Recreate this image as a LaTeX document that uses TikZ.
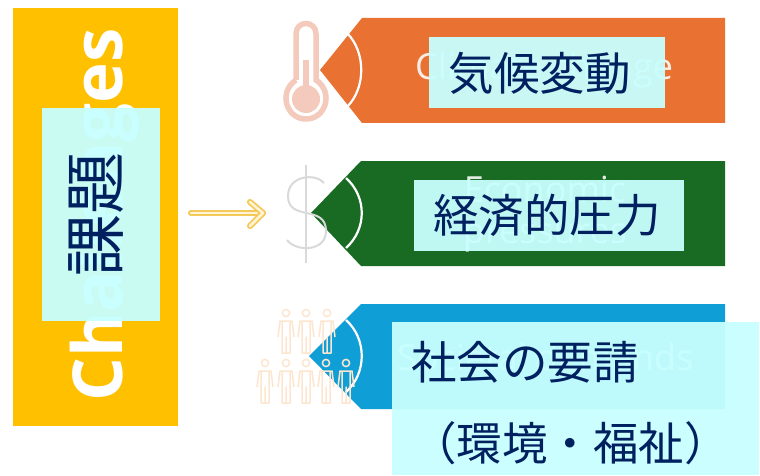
\documentclass[tikz,border=0pt]{standalone}
\usepackage{fontspec}
\setsansfont{Open Sans}
\newfontfamily\jpfont{Noto Sans CJK JP}
\usetikzlibrary{positioning}

\definecolor{barcolor}{HTML}{FFC000}
\definecolor{climatecolor}{HTML}{E97132}
\definecolor{economycolor}{HTML}{196B24}
\definecolor{societycolor}{HTML}{0F9ED5}
\definecolor{boxcolor}{HTML}{C8FFFF}
\definecolor{jptext}{HTML}{002060}
\definecolor{arrowcolor}{HTML}{F5C85A}
\definecolor{arrowinner}{HTML}{FFF4D6}
\definecolor{thermocolor}{HTML}{F3CABB}
\definecolor{dollarcolor}{HTML}{D9D9D9}
\definecolor{peoplecolor}{HTML}{FCE6CF}

\begin{document}
\begin{tikzpicture}[x=1pt,y=-1pt,
    tagarc/.style={draw=white,line width=2.2pt},
    ghost/.style={font=\sffamily\fontsize{36}{41}\selectfont,inner sep=0pt,opacity=.88,align=center},
    jpbox/.style={fill=boxcolor,fill opacity=.95,inner sep=0pt},
    jplabel/.style={text=jptext,inner sep=0pt,font=\jpfont\fontsize{45.5}{81}\selectfont},
    arrowline/.style={draw=arrowcolor,double=arrowinner,double distance=2.5pt,line width=1.8pt,line cap=round,line join=round},
    person/.pic={
      \draw[draw=peoplecolor,line width=1.5pt,line join=round] (0,0) circle[radius=3.6]
        (-8,24) -- (-6,8) -- (6,8) -- (8,24)
        (-4,9) -- (-4,40) -- (0,40) -- (0,24) -- (0,40) -- (4,40) -- (4,9);
    }]
  \useasboundingbox (0,0) rectangle (760,476);

  % left bar
  \node[fill=barcolor,minimum width=165pt,minimum height=418pt,inner sep=0pt] (bar) at (95,217) {};
  \node[rotate=90,anchor=base west,text=white,inner sep=0pt,
        font=\sffamily\bfseries\fontsize{69}{69}\selectfont] (challenges) at (122,402) {Challenges};

  % tags
  \fill[climatecolor] (320,70) -- (362,18) -- (725,18) -- (725,123) -- (362,123) -- cycle;
  \fill[economycolor] (311,213) -- (361,161) -- (725,161) -- (725,266) -- (361,266) -- cycle;
  \fill[societycolor] (309,356) -- (361,304) -- (725,304) -- (725,409) -- (361,409) -- cycle;
  \draw[tagarc] (347,33) .. controls (366,52) and (366,88) .. (347,107);
  \draw[tagarc] (346,178) .. controls (367,197) and (367,229) .. (346,248);
  \draw[tagarc] (346,320) .. controls (367,339) and (367,373) .. (346,392);

  % texts under the boxes
  \node[ghost,text=white,anchor=west] (climate) at (415,70) {Climate change};
  \node[ghost,text=white] (economy) at (545,214) {Economic\\pressures};
  \node[ghost,text=white,anchor=west] (society) at (397,357) {Societal demands};

  % thermometer
  \draw[draw=thermocolor,line width=5.5pt] (296,80) -- (296,34)
    .. controls (296,20) and (316,20) .. (316,34) -- (316,80)
    .. controls (334,92) and (326,119) .. (306,119)
    .. controls (286,119) and (278,92) .. (296,80);
  \fill[thermocolor] (303,60) rectangle (309,90);
  \fill[thermocolor] (306,99) circle[radius=14];

  % dollar
  \draw[draw=dollarcolor,line width=2pt] (306,165) -- (306,263);
  \draw[draw=dollarcolor,line width=2pt] (324,183) .. controls (316,173) and (288,175) .. (288,196)
    .. controls (288,222) and (326,204) .. (326,231)
    .. controls (326,252) and (296,252) .. (287,240);

  % people
  \foreach \px in {286,306,327} \pic at (\px,313) {person};
  \foreach \px in {265,286,306,326,346} \pic at (\px,363) {person};

  % arrow
  \coordinate (arrowtail) at (191,213);
  \coordinate (arrowtip) at (263,213);
  \coordinate (arrowupper) at (250,202);
  \coordinate (arrowlower) at (250,226);
  \draw[arrowline] (arrowtail) -- (arrowtip);
  \draw[arrowline] (arrowupper) -- (arrowtip) -- (arrowlower);

  % boxes
  \node[jpbox,minimum width=118pt,minimum height=213pt] (challengebox) at (101,214.5) {};
  \node[jplabel,rotate=90,font=\jpfont\fontsize{62}{62}\selectfont] (challengetext) at (96,214) {課題};
  \node[jpbox,minimum width=236pt,minimum height=71pt] (climatebox) at (547,72.5) {};
  \node[jplabel] (climatetext) at (539.5,73) {気候変動};
  \node[jpbox,minimum width=270pt,minimum height=71pt] (economybox) at (549,215.5) {};
  \node[jplabel] (economytext) at (547,215.5) {経済的圧力};
  \node[jpbox,minimum width=367pt,minimum height=153pt] (societybox) at (575.5,398.5) {};
  \node[jplabel,align=left,anchor=west] (societytext) at (411,403) {社会の要請\\（環境・福祉）};
\end{tikzpicture}
\end{document}
